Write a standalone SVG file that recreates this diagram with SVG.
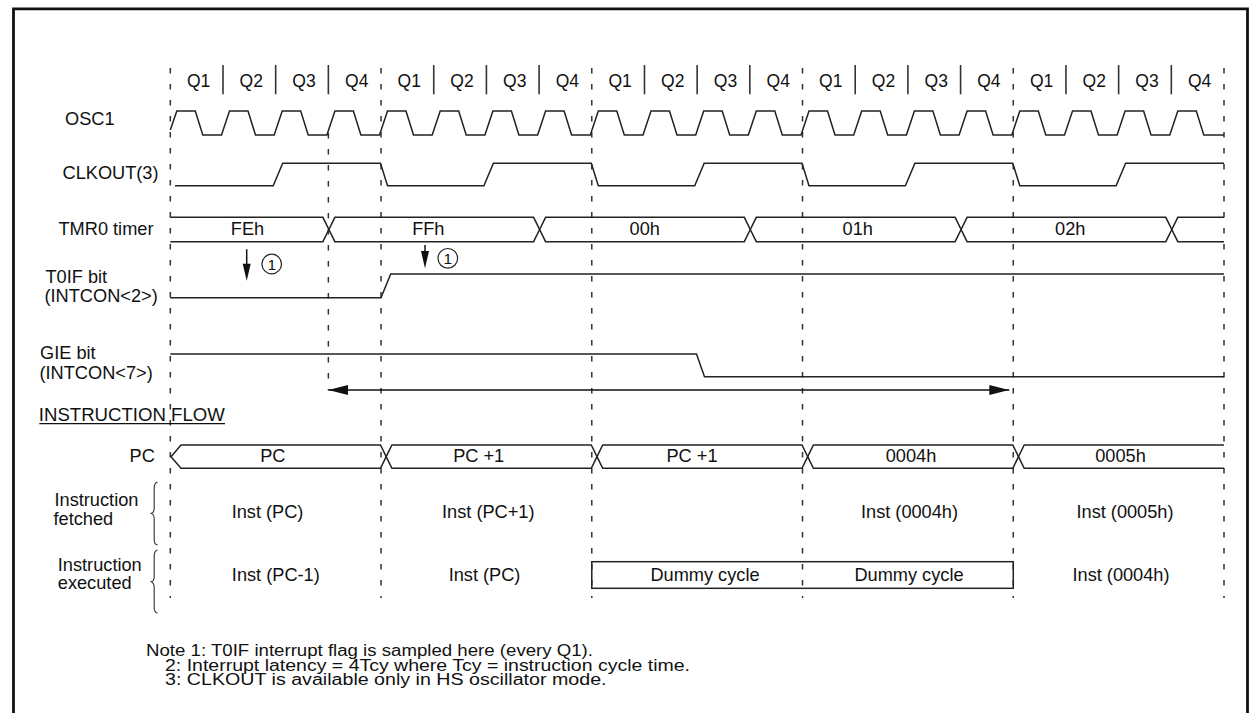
<svg xmlns="http://www.w3.org/2000/svg" width="1250" height="713" viewBox="0 0 1250 713">
<style>
  text { font-family: "Liberation Sans", Arial, Helvetica, sans-serif; fill: #111; }
  .lbl { font-size: 18.2px; }
  .q { font-size: 17.5px; text-anchor: middle; }
  .c { font-size: 18.2px; text-anchor: middle; }
  .note { font-size: 16px; }
  .sig { fill: none; stroke: #222; stroke-width: 1.5; stroke-linejoin: miter; }
  .sep { stroke: #333; stroke-width: 1.6; }
  .dash { stroke: #333; stroke-width: 1.5; stroke-dasharray: 5.5 10.5; }
  .brace { fill: none; stroke: #333; stroke-width: 1.1; }
</style>
<defs>
  <marker id="ah" viewBox="0 0 20 10" refX="20" refY="5" markerWidth="20" markerHeight="10" markerUnits="userSpaceOnUse" orient="auto-start-reverse">
    <path d="M0,0 L20,5 L0,10 Z" fill="#111"/>
  </marker>
</defs>

<rect width="1250" height="713" fill="#fff"/>
<path d="M13.5,713 V8.8 H1247.5 V713" fill="none" stroke="#111" stroke-width="2.8"/>

<g id="grid">
  <g class="dash">
    <line x1="170.3" y1="68" x2="170.3" y2="598"/>
    <line x1="381.04" y1="68" x2="381.04" y2="598"/>
    <line x1="591.78" y1="68" x2="591.78" y2="598"/>
    <line x1="802.52" y1="68" x2="802.52" y2="598"/>
    <line x1="1013.26" y1="68" x2="1013.26" y2="598"/>
    <line x1="1224" y1="68" x2="1224" y2="598"/>
    <line x1="328.36" y1="133" x2="328.36" y2="390"/>
  </g>
</g>

<g id="quarters">
  <g class="sep">
    <line x1="222.99" y1="65" x2="222.99" y2="94.3"/>
    <line x1="275.67" y1="65" x2="275.67" y2="94.3"/>
    <line x1="328.36" y1="65" x2="328.36" y2="94.3"/>
    <line x1="433.73" y1="65" x2="433.73" y2="94.3"/>
    <line x1="486.41" y1="65" x2="486.41" y2="94.3"/>
    <line x1="539.10" y1="65" x2="539.10" y2="94.3"/>
    <line x1="644.47" y1="65" x2="644.47" y2="94.3"/>
    <line x1="697.15" y1="65" x2="697.15" y2="94.3"/>
    <line x1="749.84" y1="65" x2="749.84" y2="94.3"/>
    <line x1="855.21" y1="65" x2="855.21" y2="94.3"/>
    <line x1="907.89" y1="65" x2="907.89" y2="94.3"/>
    <line x1="960.58" y1="65" x2="960.58" y2="94.3"/>
    <line x1="1065.95" y1="65" x2="1065.95" y2="94.3"/>
    <line x1="1118.63" y1="65" x2="1118.63" y2="94.3"/>
    <line x1="1171.32" y1="65" x2="1171.32" y2="94.3"/>
  </g>
  <text class="q" x="198.6" y="87">Q1</text>
  <text class="q" x="251.3" y="87">Q2</text>
  <text class="q" x="304.0" y="87">Q3</text>
  <text class="q" x="356.7" y="87">Q4</text>
  <text class="q" x="409.3" y="87">Q1</text>
  <text class="q" x="462.0" y="87">Q2</text>
  <text class="q" x="514.7" y="87">Q3</text>
  <text class="q" x="567.4" y="87">Q4</text>
  <text class="q" x="620.1" y="87">Q1</text>
  <text class="q" x="672.8" y="87">Q2</text>
  <text class="q" x="725.5" y="87">Q3</text>
  <text class="q" x="778.2" y="87">Q4</text>
  <text class="q" x="830.8" y="87">Q1</text>
  <text class="q" x="883.5" y="87">Q2</text>
  <text class="q" x="936.2" y="87">Q3</text>
  <text class="q" x="988.9" y="87">Q4</text>
  <text class="q" x="1041.6" y="87">Q1</text>
  <text class="q" x="1094.3" y="87">Q2</text>
  <text class="q" x="1147.0" y="87">Q3</text>
  <text class="q" x="1199.6" y="87">Q4</text>
</g>

<g id="osc1">
  <text class="lbl" x="65" y="125">OSC1</text>
  <polyline class="sig" points="170.3,130 176.8,111 195.3,111 202.8,135 221.5,135 229.5,111 248.0,111 255.5,135 274.2,135 282.2,111 300.7,111 308.2,135 326.9,135 334.9,111 353.4,111 360.9,135 379.5,135 387.5,111 406.0,111 413.5,135 432.2,135 440.2,111 458.7,111 466.2,135 484.9,135 492.9,111 511.4,111 518.9,135 537.6,135 545.6,111 564.1,111 571.6,135 590.3,135 598.3,111 616.8,111 624.3,135 643.0,135 651.0,111 669.5,111 677.0,135 695.7,135 703.7,111 722.2,111 729.7,135 748.3,135 756.3,111 774.8,111 782.3,135 801.0,135 809.0,111 827.5,111 835.0,135 853.7,135 861.7,111 880.2,111 887.7,135 906.4,135 914.4,111 932.9,111 940.4,135 959.1,135 967.1,111 985.6,111 993.1,135 1011.8,135 1019.8,111 1038.3,111 1045.8,135 1064.5,135 1072.5,111 1091.0,111 1098.5,135 1117.1,135 1125.1,111 1143.6,111 1151.1,135 1169.8,135 1177.8,111 1196.3,111 1203.8,135 1224,135"/>
</g>

<g id="clkout">
  <text class="lbl" x="62.5" y="179">CLKOUT(3)</text>
  <polyline class="sig" points="175,185.7 273.2,185.7 282.7,163.3 380.5,163.3 387.5,185.7 483.9,185.7 493.4,163.3 591.3,163.3 598.3,185.7 694.7,185.7 704.2,163.3 802.0,163.3 809.0,185.7 905.4,185.7 914.9,163.3 1012.8,163.3 1019.8,185.7 1116.1,185.7 1125.6,163.3 1224,163.3"/>
</g>

<g id="tmr0">
  <text class="lbl" x="58.5" y="234.5">TMR0 timer</text>
  <path class="sig" d="M170.3,217.3 H322.9 L328.9,229.5 L322.9,241.7 H170.3"/>
  <path class="sig" d="M328.9,229.5 L334.9,217.3 H533.6 L539.6,229.5 L533.6,241.7 H334.9 Z"/>
  <path class="sig" d="M539.6,229.5 L545.6,217.3 H744.3 L750.3,229.5 L744.3,241.7 H545.6 Z"/>
  <path class="sig" d="M750.3,229.5 L756.3,217.3 H955.1 L961.1,229.5 L955.1,241.7 H756.3 Z"/>
  <path class="sig" d="M961.1,229.5 L967.1,217.3 H1165.8 L1171.8,229.5 L1165.8,241.7 H967.1 Z"/>
  <path class="sig" d="M1224,217.3 H1177.8 L1171.8,229.5 L1177.8,241.7 H1224"/>
  <text class="c" x="247.5" y="235">FEh</text>
  <text class="c" x="428.3" y="235">FFh</text>
  <text class="c" x="644.7" y="235">00h</text>
  <text class="c" x="857.7" y="235">01h</text>
  <text class="c" x="1070.3" y="235">02h</text>
</g>

<g id="t0if">
  <text class="lbl" x="45.5" y="282.7">T0IF bit</text>
  <text class="lbl" x="44.5" y="302">(INTCON&lt;2&gt;)</text>
  <polyline class="sig" points="170.3,297.7 381,297.7 390.7,274 1224,274"/>
</g>

<g id="gie">
  <text class="lbl" x="40" y="359.3">GIE bit</text>
  <text class="lbl" x="39.5" y="378.5">(INTCON&lt;7&gt;)</text>
  <polyline class="sig" points="170.3,354 696.5,354 704.5,376.7 1224,376.7"/>
</g>

<g id="sample1">
  <circle cx="271.7" cy="264" r="9.8" fill="none" stroke="#222" stroke-width="1.2"/>
  <text x="271.7" y="269.6" font-size="15.5" text-anchor="middle">1</text>
</g>
<g id="sample2">
  <circle cx="447.8" cy="258.3" r="9.8" fill="none" stroke="#222" stroke-width="1.2"/>
  <text x="447.8" y="263.9" font-size="15.5" text-anchor="middle">1</text>
</g>

<g id="flow-title">
  <text class="lbl" x="38.8" y="421" textLength="186" lengthAdjust="spacingAndGlyphs">INSTRUCTION FLOW</text>
  <line x1="39.3" y1="423.6" x2="225" y2="423.6" stroke="#111" stroke-width="1.3"/>
</g>

<g id="pc">
  <text class="lbl" x="129.5" y="462">PC</text>
  <path class="sig" d="M171,456.7 L181,445 H380.5 L386.2,456.7 L380.5,468.3 H181 Z"/>
  <path class="sig" d="M386.2,456.7 L391.9,445 H591.3 L597,456.7 L591.3,468.3 H391.9 Z"/>
  <path class="sig" d="M597,456.7 L602.7,445 H802 L807.7,456.7 L802,468.3 H602.7 Z"/>
  <path class="sig" d="M807.7,456.7 L813.4,445 H1012.8 L1018.5,456.7 L1012.8,468.3 H813.4 Z"/>
  <path class="sig" d="M1224,445 H1024.2 L1018.5,456.7 L1024.2,468.3 H1224"/>
  <text class="c" x="272.8" y="462">PC</text>
  <text class="c" x="478.7" y="462">PC +1</text>
  <text class="c" x="692" y="462">PC +1</text>
  <text class="c" x="911" y="462">0004h</text>
  <text class="c" x="1120.5" y="462">0005h</text>
</g>

<g id="fetched">
  <text class="lbl" x="54.5" y="506">Instruction</text>
  <text class="lbl" x="53.5" y="525">fetched</text>
  <path class="brace" d="M157.5,482 Q154.2,483 154.2,488 L154.2,508 Q154.2,512.5 151.3,513.3 Q154.2,514.5 154.2,519 L154.2,539.5 Q154.2,544.5 157.5,545"/>
  <text class="c" x="267.5" y="518">Inst (PC)</text>
  <text class="c" x="488.3" y="518">Inst (PC+1)</text>
  <text class="c" x="909.5" y="518">Inst (0004h)</text>
  <text class="c" x="1125" y="518">Inst (0005h)</text>
</g>

<g id="executed">
  <text class="lbl" x="57.8" y="570.7">Instruction</text>
  <text class="lbl" x="57.8" y="589.3">executed</text>
  <path class="brace" d="M157.5,550 Q154.2,551 154.2,556 L154.2,576.5 Q154.2,581 151.3,581.7 Q154.2,583 154.2,587.5 L154.2,607.5 Q154.2,612.5 157.5,613"/>
  <text class="c" x="275.8" y="581">Inst (PC-1)</text>
  <text class="c" x="484.5" y="581">Inst (PC)</text>
  <rect x="591.78" y="561.7" width="421.5" height="26.6" fill="none" stroke="#222" stroke-width="1.5"/>
  <text class="c" x="705" y="581">Dummy cycle</text>
  <text class="c" x="909" y="581">Dummy cycle</text>
  <text class="c" x="1121" y="581">Inst (0004h)</text>
</g>

<g id="connectors">
  <line x1="246.7" y1="249.3" x2="246.7" y2="268" stroke="#111" stroke-width="1.5"/>
  <path d="M242.7,263.7 L250.7,263.7 L246.7,280.7 Z" fill="#111"/>
  <line x1="425" y1="245" x2="425" y2="256" stroke="#111" stroke-width="1.5"/>
  <path d="M421,251 L429,251 L425,268.3 Z" fill="#111"/>
  <line x1="328.3" y1="390" x2="1009.3" y2="390" stroke="#111" stroke-width="1.5" marker-start="url(#ah)" marker-end="url(#ah)"/>
</g>

<g id="notes">
  <text class="note" x="146" y="656" textLength="447" lengthAdjust="spacingAndGlyphs">Note 1: T0IF interrupt flag is sampled here (every Q1).</text>
  <text class="note" x="165" y="670.5" textLength="525" lengthAdjust="spacingAndGlyphs">2: Interrupt latency = 4Tcy where Tcy = instruction cycle time.</text>
  <text class="note" x="165" y="685" textLength="441.5" lengthAdjust="spacingAndGlyphs">3: CLKOUT is available only in HS oscillator mode.</text>
</g>
</svg>
